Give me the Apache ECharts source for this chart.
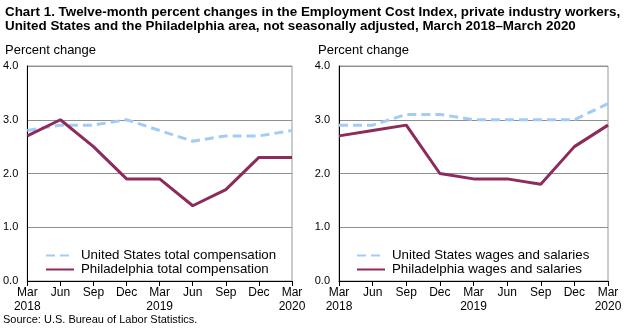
<!DOCTYPE html>
<html>
<head>
<meta charset="utf-8">
<script src="https://cdn.jsdelivr.net/npm/echarts@6/dist/echarts.min.js"></script>
<style>
  html, body { margin: 0; padding: 0; background: #fff; }
  #chart { width: 627px; height: 329px; }
</style>
</head>
<body>
<div id="chart"></div>
<script>
// Quarterly periods, March 2018 to March 2020
const quarters = ['Mar\n2018', 'Jun', 'Sep', 'Dec', 'Mar\n2019', 'Jun', 'Sep', 'Dec', 'Mar\n2020'];

// Twelve-month percent changes, total compensation
const usTotalComp = [2.8, 2.9, 2.9, 3.0, 2.8, 2.6, 2.7, 2.7, 2.8];
const phlTotalComp = [2.7, 3.0, 2.5, 1.9, 1.9, 1.4, 1.7, 2.3, 2.3];

// Twelve-month percent changes, wages and salaries
const usWages = [2.9, 2.9, 3.1, 3.1, 3.0, 3.0, 3.0, 3.0, 3.3];
const phlWages = [2.7, 2.8, 2.9, 2.0, 1.9, 1.9, 1.8, 2.5, 2.9];

const FONT = 'Liberation Sans, Arial, sans-serif';
const US_COLOR = '#a3cbf7';
const PHL_COLOR = '#8c2b5c';

function xAxisFor(gridIndex) {
  return {
    type: 'category',
    gridIndex,
    data: quarters,
    boundaryGap: false,
    axisLine: { lineStyle: { color: '#000', width: 1 } },
    axisTick: { show: true, inside: false, length: 5, lineStyle: { color: '#000' }, alignWithLabel: true },
    axisLabel: { color: '#000', fontFamily: FONT, fontSize: 12, lineHeight: 14, margin: 5, interval: 0 },
    splitLine: { show: false }
  };
}

function yAxisFor(gridIndex) {
  return {
    type: 'value',
    gridIndex,
    min: 0,
    max: 4,
    interval: 1,
    axisLine: { show: true, lineStyle: { color: '#000', width: 1 } },
    axisTick: { show: false },
    axisLabel: { color: '#000', fontFamily: FONT, fontSize: 11, margin: 9, formatter: v => v.toFixed(1) },
    splitLine: { show: true, lineStyle: { color: '#8f8f8f', width: 1 } }
  };
}

function lineSeries(name, data, idx, color, dashed) {
  return {
    name,
    type: 'line',
    xAxisIndex: idx,
    yAxisIndex: idx,
    data,
    symbol: 'none',
    smooth: false,
    lineStyle: { color, width: 3, type: dashed ? [9, 5] : 'solid' },
    itemStyle: { color },
    z: dashed ? 3 : 4
  };
}

const legendText = { color: '#000', fontFamily: FONT, fontSize: 13.3, padding: [0, 0, 0, 2] };
const legendCommon = {
  orient: 'vertical', top: 249, padding: 0,
  itemWidth: 28, itemHeight: 10, itemGap: 1,
  itemStyle: { opacity: 0 },
  textStyle: legendText
};

const option = {
  animation: false,
  title: [
    {
      text: 'Chart 1. Twelve-month percent changes in the Employment Cost Index, private industry workers,\nUnited States and the Philadelphia area, not seasonally adjusted, March 2018\u2013March 2020',
      left: 5, top: 6, padding: 0,
      textStyle: { fontFamily: FONT, fontSize: 13.4, fontWeight: 'bold', color: '#000', lineHeight: 13.5 }
    },
    {
      text: 'Percent change', left: 5, top: 44, padding: 0,
      textStyle: { fontFamily: FONT, fontSize: 13, fontWeight: 'normal', color: '#000' }
    },
    {
      text: 'Percent change', left: 318, top: 44, padding: 0,
      textStyle: { fontFamily: FONT, fontSize: 13, fontWeight: 'normal', color: '#000' }
    },
    {
      text: 'Source: U.S. Bureau of Labor Statistics.', left: 3, top: 314, padding: 0,
      textStyle: { fontFamily: FONT, fontSize: 11, fontWeight: 'normal', color: '#000' }
    }
  ],
  legend: [
    Object.assign({ data: ['United States total compensation', 'Philadelphia total compensation'], left: 45 }, legendCommon),
    Object.assign({ data: ['United States wages and salaries', 'Philadelphia wages and salaries'], left: 356 }, legendCommon)
  ],
  grid: [
    { left: 25, right: 335, top: 66, bottom: 48, show: true, borderColor: '#8fa08c', borderWidth: 1, containLabel: false },
    { left: 339, right: 19, top: 66, bottom: 48, show: true, borderColor: '#8fa08c', borderWidth: 1, containLabel: false }
  ],
  xAxis: [xAxisFor(0), xAxisFor(1)],
  yAxis: [yAxisFor(0), yAxisFor(1)],
  series: [
    lineSeries('United States total compensation', usTotalComp, 0, US_COLOR, true),
    lineSeries('Philadelphia total compensation', phlTotalComp, 0, PHL_COLOR, false),
    lineSeries('United States wages and salaries', usWages, 1, US_COLOR, true),
    lineSeries('Philadelphia wages and salaries', phlWages, 1, PHL_COLOR, false)
  ]
};

const chart = echarts.init(document.getElementById('chart'), null, { renderer: 'canvas' });
chart.setOption(option);
</script>
</body>
</html>
